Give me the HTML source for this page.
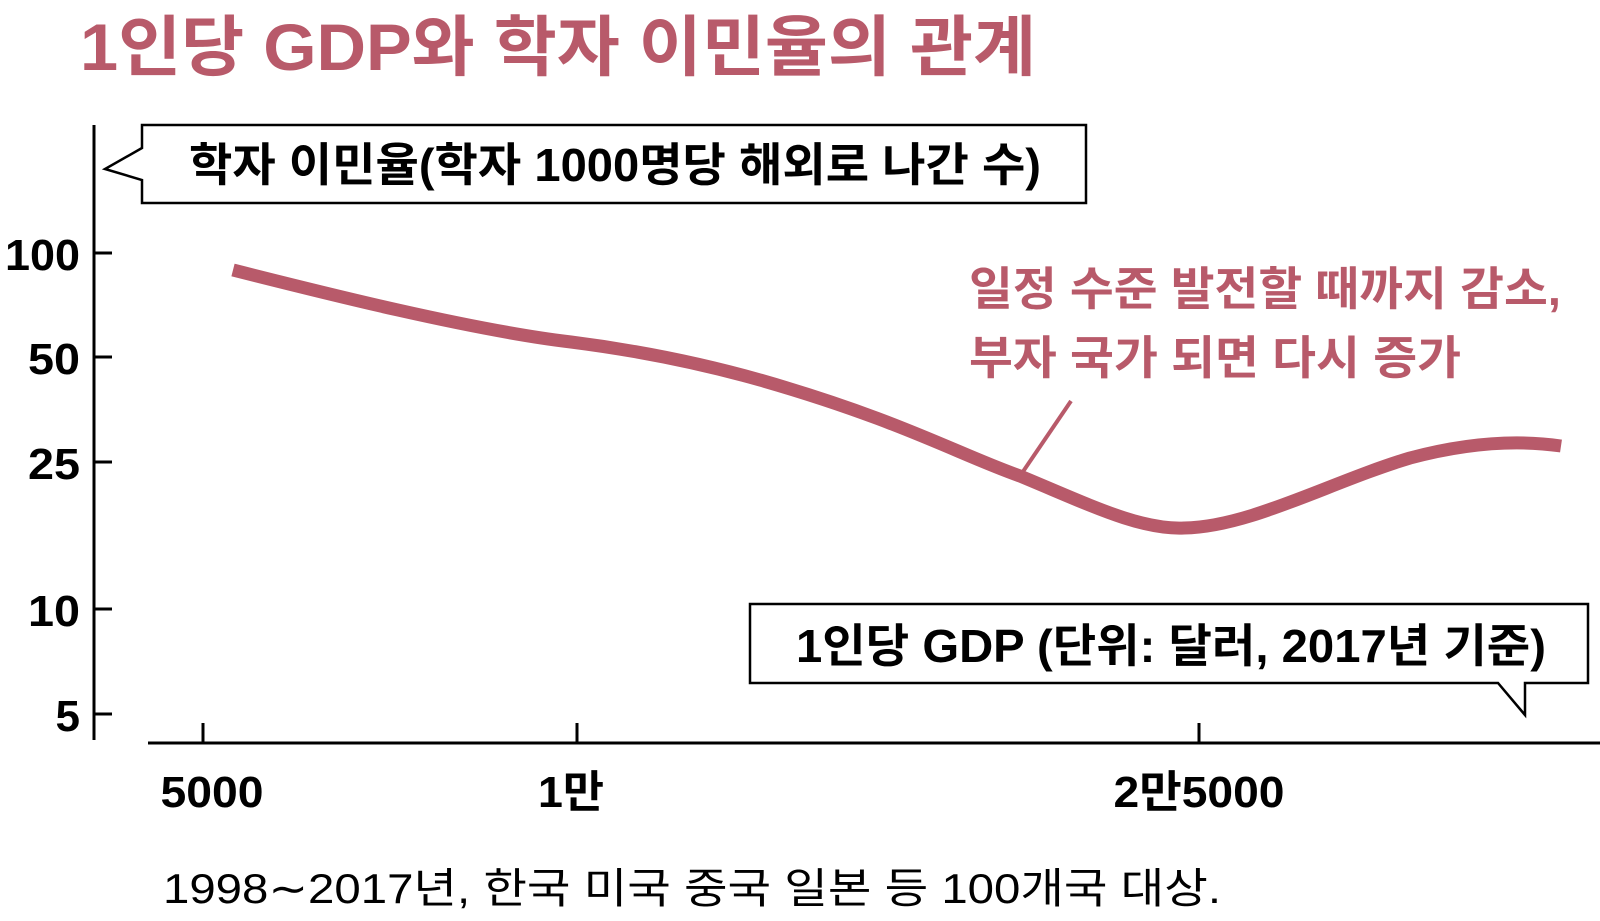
<!DOCTYPE html>
<html><head><meta charset="utf-8">
<style>
html,body{margin:0;padding:0;background:#fff;}
body{width:1600px;height:916px;overflow:hidden;}
svg text{font-family:"Liberation Sans","Noto Sans CJK KR","NanumGothic",sans-serif;}
</style></head>
<body>
<svg width="1600" height="916" viewBox="0 0 1600 916" xmlns="http://www.w3.org/2000/svg">
<text x="80" y="70" font-size="66" font-weight="bold" fill="#b85a6a" textLength="956" lengthAdjust="spacingAndGlyphs">1인당 GDP와 학자 이민율의 관계</text>
<!-- y axis -->
<line x1="94" y1="125" x2="94" y2="740" stroke="#000" stroke-width="3"/>
<g stroke="#000" stroke-width="3">
<line x1="94" y1="253" x2="112" y2="253"/>
<line x1="94" y1="357" x2="112" y2="357"/>
<line x1="94" y1="462" x2="112" y2="462"/>
<line x1="94" y1="609" x2="112" y2="609"/>
<line x1="94" y1="714" x2="112" y2="714"/>
</g>
<g font-size="44" text-anchor="end" fill="#000" font-weight="bold">
<text x="80" y="270" textLength="75" lengthAdjust="spacingAndGlyphs">100</text>
<text x="80" y="374" textLength="52" lengthAdjust="spacingAndGlyphs">50</text>
<text x="80" y="479" textLength="52" lengthAdjust="spacingAndGlyphs">25</text>
<text x="80" y="626" textLength="52" lengthAdjust="spacingAndGlyphs">10</text>
<text x="80" y="731">5</text>
</g>
<!-- x axis -->
<line x1="148" y1="743" x2="1600" y2="743" stroke="#000" stroke-width="3"/>
<g stroke="#000" stroke-width="3">
<line x1="203" y1="723" x2="203" y2="743"/>
<line x1="577" y1="723" x2="577" y2="743"/>
<line x1="1199" y1="723" x2="1199" y2="743"/>
</g>
<g font-size="44" text-anchor="middle" fill="#000" font-weight="bold">
<text x="212" y="807" textLength="103" lengthAdjust="spacingAndGlyphs">5000</text>
<text x="571" y="807" textLength="66" lengthAdjust="spacingAndGlyphs">1만</text>
<text x="1199" y="807" textLength="171" lengthAdjust="spacingAndGlyphs">2만5000</text>
</g>
<text x="163" y="903" font-size="42" fill="#000" textLength="1058" lengthAdjust="spacingAndGlyphs">1998∼2017년, 한국 미국 중국 일본 등 100개국 대상.</text>
<!-- box 1 -->
<path d="M142 125 H1086 V203 H142 V180 L105 169 L142 148 Z" fill="#fff" stroke="#000" stroke-width="2.5"/>
<text x="189" y="181" font-size="46" font-weight="bold" fill="#000" textLength="852" lengthAdjust="spacingAndGlyphs">학자 이민율(학자 1000명당 해외로 나간 수)</text>
<!-- box 2 -->
<path d="M750 604 H1588 V683 H1525 V715 L1498 683 H750 Z" fill="#fff" stroke="#000" stroke-width="2.5"/>
<text x="796" y="662" font-size="46" font-weight="bold" fill="#000" textLength="750" lengthAdjust="spacingAndGlyphs">1인당 GDP (단위: 달러, 2017년 기준)</text>
<!-- annotation -->
<g font-size="46" fill="#b85a6a" font-weight="bold">
<text x="969" y="305" textLength="592" lengthAdjust="spacingAndGlyphs">일정 수준 발전할 때까지 감소,</text>
<text x="969" y="374" textLength="492" lengthAdjust="spacingAndGlyphs">부자 국가 되면 다시 증가</text>
</g>
<line x1="1071" y1="401" x2="1020" y2="476" stroke="#b85a6a" stroke-width="4"/>
<path d="M233 270 C320 292 470 330 571 342 C650 352 714 367 760 380 C900 420 960 455 1020 476 C1090 505 1140 530 1184 528 C1250 527 1330 482 1410 458 C1470 442 1520 440 1561 446" fill="none" stroke="#b85a6a" stroke-width="13"/>
</svg>
</body></html>
